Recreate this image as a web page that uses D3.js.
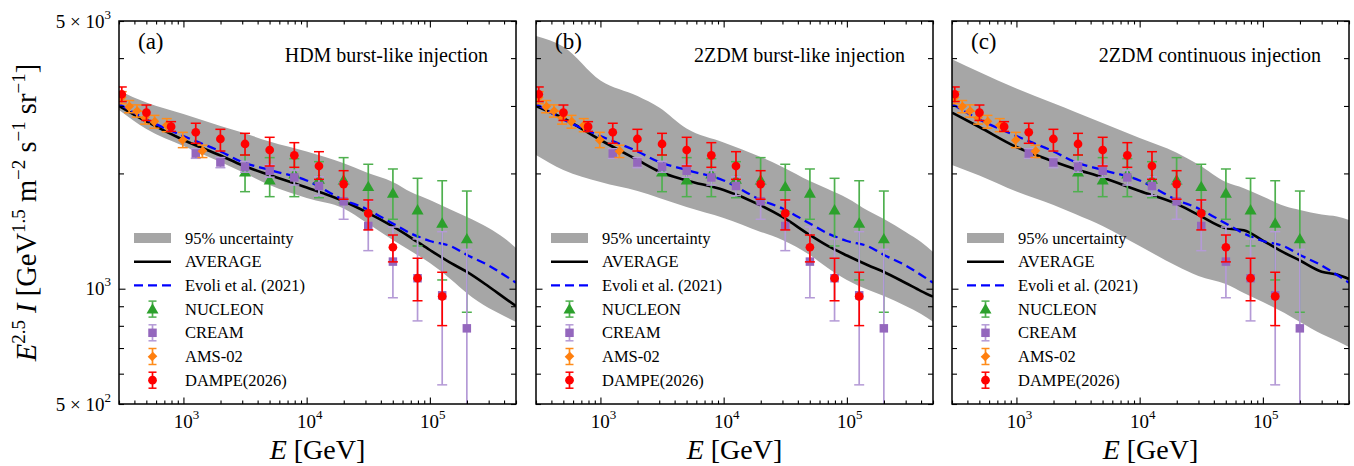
<!DOCTYPE html>
<html>
<head>
<meta charset="utf-8">
<script src="https://cdn.jsdelivr.net/npm/d3@7"></script>
<style>
  body { margin: 0; background: #fff; }
  svg { font-family: "Liberation Serif", "Times New Roman", serif; }
</style>
</head>
<body>
<svg width="1354" height="466"></svg>
<script>
// energy grid for the model curves (GeV)
const gridE = [300, 500, 1e3, 2e3, 3e3, 5e3, 1e4, 2e4, 3e4, 5e4, 7e4, 1e5, 1.5e5, 2e5, 3e5, 4e5, 5e5];

// Evoli et al. (2021), same in all panels
const evoli = [3036, 2766, 2504, 2282, 2142, 2042, 1917, 1705, 1620, 1480, 1394, 1332, 1289, 1225, 1150, 1086, 1037];

// (a) HDM burst-like
const avgA = [3000, 2733, 2445, 2227, 2100, 1981, 1838, 1692, 1590, 1454, 1360, 1262, 1164, 1106, 1013, 948, 901];
const upA  = [3289, 3064, 2859, 2660, 2558, 2423, 2282, 2126, 2017, 1899, 1788, 1705, 1605, 1539, 1441, 1357, 1277];
const loA  = [2928, 2612, 2358, 2142, 2017, 1866, 1726, 1620, 1494, 1341, 1254, 1167, 1054, 973, 890, 849, 819];

// (b) 2ZDM burst-like
const avgB = [3000, 2786, 2445, 2168, 2023, 1917, 1810, 1650, 1539, 1381, 1293, 1221, 1150, 1106, 1035, 986, 953];
const upB  = [4569, 4283, 3498, 3186, 2973, 2620, 2409, 2207, 2079, 1911, 1821, 1726, 1595, 1521, 1407, 1324, 1247];
const loB  = [2234, 2042, 1899, 1799, 1726, 1635, 1530, 1407, 1341, 1225, 1133, 1054, 992, 957, 901, 859, 820];

// (c) 2ZDM continuous
const avgC = [2882, 2644, 2344, 2149, 2054, 1952, 1799, 1665, 1558, 1438, 1421, 1336, 1240, 1185, 1108, 1089, 1060];
const upC  = [3972, 3679, 3333, 3049, 2894, 2709, 2475, 2265, 2110, 1899, 1830, 1741, 1644, 1605, 1562, 1543, 1511];
const loC  = [2104, 1975, 1794, 1655, 1567, 1458, 1293, 1146, 1080, 1029, 975, 923, 864, 819, 762, 730, 704];

// measurements
const nucleonE  = [3162, 5012, 7943, 12589, 19953, 31623, 50119, 79433, 125893, 199526];
const nucleonV  = [2017, 1922, 1993, 1930, 1922, 1847, 1775, 1605, 1482, 1349];
const nucleonHi = [2234, 2199, 2185, 2146, 2199, 2113, 2054, 1942, 1914, 1799];
const nucleonLo = [1792, 1739, 1739, 1728, 1677, 1590, 1518, 1293, 1054, 868];

const creamE  = [1259, 1995, 3162, 5012, 7943, 12589, 19953, 31623, 50119, 79433, 125893, 199526];
const creamV  = [2254, 2136, 2083, 2032, 1952, 1854, 1691, 1458, 1177, 1065, 961, 788];
const creamHi = [2320, 2200, 2150, 2110, 2040, 1960, 1888, 1694, 1449, 1349, 1409, 1267];
const creamLo = [2190, 2070, 2015, 1955, 1865, 1750, 1518, 1257, 947, 824, 561, 309];

const amsE  = [316, 363, 419, 489, 582, 732, 988, 1426];
const amsV  = [3153, 2988, 2911, 2796, 2730, 2676, 2445, 2289];
const amsHi = [3270, 3100, 3020, 2905, 2835, 2780, 2560, 2370];
const amsLo = [3040, 2880, 2805, 2690, 2625, 2570, 2335, 2200];

const dampeE  = [316, 501, 794, 1259, 1995, 3162, 5012, 7943, 12589, 19953, 31623, 50119, 79433, 125893];
const dampeV  = [3219, 2882, 2649, 2561, 2460, 2387, 2302, 2230, 2091, 1876, 1572, 1283, 1065, 955];
const dampeHi = [3363, 3017, 2730, 2704, 2607, 2545, 2485, 2406, 2279, 2033, 1705, 1381, 1201, 1104];
const dampeLo = [3080, 2750, 2575, 2397, 2288, 2234, 2091, 2075, 1930, 1712, 1424, 1175, 930, 801];

const panelTags = ["(a)", "(b)", "(c)"];
const panelTitles = ["HDM burst-like injection", "2ZDM burst-like injection", "2ZDM continuous injection"];
const xLabelVals = [1e3, 1e4, 1e5];
const xLabelExp = ["3", "4", "5"];
const yLabelVals = [500, 1000, 5000];
const yLabelText = [["5 × 10", "2"], ["10", "3"], ["5 × 10", "3"]];

const models = [
  { avg: avgA, up: upA, lo: loA },
  { avg: avgB, up: upB, lo: loB },
  { avg: avgC, up: upC, lo: loC }
];

const series = [
  { name: "NUCLEON", E: nucleonE, v: nucleonV, hi: nucleonHi, lo: nucleonLo, color: "#2ca02c", bar: "#4fb04f", shape: "tri" },
  { name: "CREAM", E: creamE, v: creamV, hi: creamHi, lo: creamLo, color: "#9467bd", bar: "#b49ad6", shape: "sq" },
  { name: "AMS-02", E: amsE, v: amsV, hi: amsHi, lo: amsLo, color: "#ff7f0e", bar: "#ff8c1a", shape: "dia" },
  { name: "DAMPE(2026)", E: dampeE, v: dampeV, hi: dampeHi, lo: dampeLo, color: "#ff0000", bar: "#ff0000", shape: "circ" }
];

// layout
const lefts = [119, 536, 952];
const mTop = 21, W = 397, H = 383;
const bandColor = "#a6a6a6";

const x = d3.scaleLog().domain([300, 5e5]).range([0, W]);
const y = d3.scaleLog().domain([500, 5000]).range([H, 0]);

const isDecade = v => Math.abs(Math.log10(v) - Math.round(Math.log10(v))) < 1e-9;
const xMajor = x.ticks().filter(isDecade);
const xMinor = x.ticks().filter(v => !isDecade(v));
const yMajor = y.ticks().filter(isDecade);
const yMinor = y.ticks().filter(v => !isDecade(v));

const svg = d3.select("svg");

function symbolPath(shape) {
  if (shape === "tri") return d3.symbol(d3.symbolTriangle, 62)();
  if (shape === "sq") return d3.symbol(d3.symbolSquare, 72)();
  if (shape === "dia") return d3.symbol(d3.symbolSquare, 40)();
  return d3.symbol(d3.symbolCircle, 60)();
}

function drawMarker(g, s, cx, cy) {
  const p = g.append("path")
    .attr("d", symbolPath(s.shape))
    .attr("fill", s.color);
  if (s.shape === "dia") p.attr("transform", `translate(${cx},${cy}) rotate(45) scale(1,1.15)`);
  else if (s.shape === "tri") p.attr("transform", `translate(${cx},${cy + 1})`);
  else p.attr("transform", `translate(${cx},${cy})`);
}

function tickAxis(g, gen, vals, len) {
  g.call(gen.tickValues(vals).tickSize(-len).tickSizeOuter(0).tickFormat(""))
    .call(a => a.select(".domain").remove())
    .selectAll("line").attr("stroke", "#000").attr("stroke-width", 1.1);
}

models.forEach((m, i) => {
  const g = svg.append("g").attr("transform", `translate(${lefts[i]},${mTop})`);

  g.append("clipPath").attr("id", "clip" + i)
    .append("rect").attr("width", W).attr("height", H);
  const plot = g.append("g").attr("clip-path", `url(#clip${i})`);

  // uncertainty band
  const band = d3.area()
    .x((d, j) => x(gridE[j]))
    .y0((d, j) => y(m.lo[j]))
    .y1((d, j) => y(m.up[j]))
    .curve(d3.curveMonotoneX);
  plot.append("path").datum(gridE).attr("d", band).attr("fill", bandColor);

  const line = arr => d3.line()
    .x((d, j) => x(gridE[j]))
    .y((d, j) => y(arr[j]))
    .curve(d3.curveMonotoneX)(gridE);

  plot.append("path").attr("d", line(m.avg))
    .attr("fill", "none").attr("stroke", "#000").attr("stroke-width", 2.6);
  plot.append("path").attr("d", line(evoli))
    .attr("fill", "none").attr("stroke", "#0000ff").attr("stroke-width", 2.3)
    .attr("stroke-dasharray", "9,5");

  // data with error bars
  series.forEach(s => {
    const sg = plot.append("g");
    s.E.forEach((e, j) => {
      const cx = x(e);
      sg.append("line").attr("x1", cx).attr("x2", cx)
        .attr("y1", y(s.lo[j])).attr("y2", y(s.hi[j]))
        .attr("stroke", s.bar).attr("stroke-width", 1.7);
      [s.lo[j], s.hi[j]].forEach(v => {
        sg.append("line").attr("x1", cx - 5).attr("x2", cx + 5)
          .attr("y1", y(v)).attr("y2", y(v))
          .attr("stroke", s.bar).attr("stroke-width", 1.5);
      });
    });
    s.E.forEach((e, j) => drawMarker(sg, s, x(e), y(s.v[j])));
  });

  // ticks on all four sides, pointing in
  tickAxis(g.append("g").attr("transform", `translate(0,${H})`), d3.axisBottom(x), xMajor, 6.5);
  tickAxis(g.append("g").attr("transform", `translate(0,${H})`), d3.axisBottom(x), xMinor, 3.5);
  tickAxis(g.append("g"), d3.axisTop(x), xMajor, 6.5);
  tickAxis(g.append("g"), d3.axisTop(x), xMinor, 3.5);
  tickAxis(g.append("g"), d3.axisLeft(y), yMajor, 6.5);
  tickAxis(g.append("g"), d3.axisLeft(y), yMinor, 5);
  tickAxis(g.append("g").attr("transform", `translate(${W},0)`), d3.axisRight(y), yMajor, 6.5);
  tickAxis(g.append("g").attr("transform", `translate(${W},0)`), d3.axisRight(y), yMinor, 5);

  g.append("rect").attr("width", W).attr("height", H)
    .attr("fill", "none").attr("stroke", "#000").attr("stroke-width", 1.5);

  // x tick labels
  xLabelVals.forEach((v, j) => {
    const t = g.append("text").attr("x", x(v) + 3).attr("y", H + 24)
      .attr("text-anchor", "middle").attr("font-size", 19);
    t.append("tspan").text("10");
    t.append("tspan").attr("dy", -9).attr("font-size", 13).text(xLabelExp[j]);
  });

  // x axis title
  const xt = g.append("text").attr("x", W / 2).attr("y", H + 55)
    .attr("text-anchor", "middle").attr("font-size", 28);
  xt.append("tspan").attr("font-style", "italic").text("E");
  xt.append("tspan").text(" [GeV]");

  // panel tag and title
  g.append("text").attr("x", 19).attr("y", 28).attr("font-size", 23).text(panelTags[i]);
  g.append("text").attr("x", W - 28).attr("y", 41).attr("text-anchor", "end")
    .attr("font-size", 20).text(panelTitles[i]);

  // legend
  const lx = 15, ly = 217, dy = 23.7, tx = 66;
  const lg = g.append("g").attr("font-size", 16.5);
  lg.append("rect").attr("x", lx).attr("y", ly - 5).attr("width", 37).attr("height", 10).attr("fill", bandColor);
  lg.append("line").attr("x1", lx).attr("x2", lx + 37).attr("y1", ly + dy).attr("y2", ly + dy)
    .attr("stroke", "#000").attr("stroke-width", 2.6);
  lg.append("line").attr("x1", lx).attr("x2", lx + 37).attr("y1", ly + 2 * dy).attr("y2", ly + 2 * dy)
    .attr("stroke", "#0000ff").attr("stroke-width", 2.3).attr("stroke-dasharray", "9,5");
  ["95% uncertainty", "AVERAGE", "Evoli et al. (2021)"].forEach((s, j) => {
    lg.append("text").attr("x", tx).attr("y", ly + j * dy + 5.5).text(s);
  });
  series.forEach((s, j) => {
    const cy = ly + (3 + j) * dy, cx = lx + 18.5;
    lg.append("line").attr("x1", cx).attr("x2", cx).attr("y1", cy - 8).attr("y2", cy + 8)
      .attr("stroke", s.bar).attr("stroke-width", 1.7);
    [cy - 8, cy + 8].forEach(v => lg.append("line").attr("x1", cx - 4).attr("x2", cx + 4)
      .attr("y1", v).attr("y2", v).attr("stroke", s.bar).attr("stroke-width", 1.5));
    drawMarker(lg, s, cx, cy);
    lg.append("text").attr("x", tx).attr("y", cy + 5.5).text(s.name);
  });
});

// y tick labels (left panel only)
yLabelVals.forEach((v, j) => {
  const t = svg.append("text").attr("x", 111).attr("y", mTop + y(v) + 6.5)
    .attr("text-anchor", "end").attr("font-size", 19);
  t.append("tspan").text(yLabelText[j][0]);
  t.append("tspan").attr("dy", -9).attr("font-size", 13).text(yLabelText[j][1]);
});

// y axis title
const yt = svg.append("text")
  .attr("transform", `translate(36,${mTop + H / 2}) rotate(-90)`)
  .attr("text-anchor", "middle").attr("font-size", 28.5);
yt.append("tspan").attr("font-style", "italic").text("E");
yt.append("tspan").attr("dy", -11).attr("font-size", 19).text("2.5");
yt.append("tspan").attr("dy", 11).attr("font-style", "italic").text(" I");
yt.append("tspan").text(" [GeV");
yt.append("tspan").attr("dy", -11).attr("font-size", 19).text("1.5");
yt.append("tspan").attr("dy", 11).text(" m");
yt.append("tspan").attr("dy", -11).attr("font-size", 19).text("−2");
yt.append("tspan").attr("dy", 11).text(" s");
yt.append("tspan").attr("dy", -11).attr("font-size", 19).text("−1");
yt.append("tspan").attr("dy", 11).text(" sr");
yt.append("tspan").attr("dy", -11).attr("font-size", 19).text("−1");
yt.append("tspan").attr("dy", 11).text("]");
</script>
</body>
</html>
